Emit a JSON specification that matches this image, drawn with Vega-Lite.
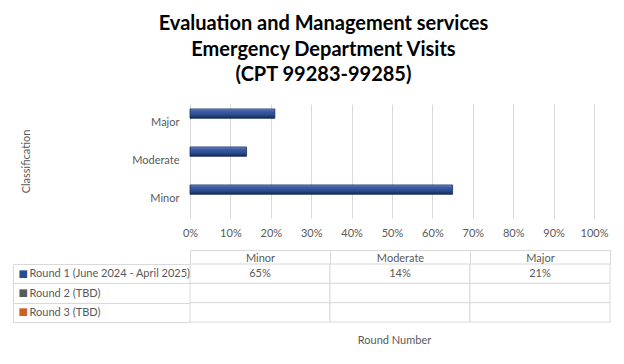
{
  "$schema": "https://vega.github.io/schema/vega-lite/v6.json",
  "padding": {"left": 12, "top": 14, "right": 12, "bottom": 4},
  "background": "white",
  "title": {
    "text": ["Evaluation and Management services", "Emergency Department Visits", "(CPT 99283-99285)"],
    "font": "Lato",
    "fontSize": 20,
    "fontWeight": "bold",
    "color": "#000000",
    "lineHeight": 25.5,
    "anchor": "middle",
    "dx": 12,
    "offset": 19
  },
  "config": {
    "view": {"stroke": null},
    "font": "Lato",
    "axis": {"labelFont": "Lato", "titleFont": "Lato", "labelColor": "#595959", "titleColor": "#595959", "labelFontSize": 11, "titleFontSize": 11, "titleFontWeight": "normal"}
  },
  "datasets": {
    "cells": [
      {"Round": "Round 1 (June 2024 - April 2025)", "Classification": "Minor", "Value": 0.65},
      {"Round": "Round 1 (June 2024 - April 2025)", "Classification": "Moderate", "Value": 0.14},
      {"Round": "Round 1 (June 2024 - April 2025)", "Classification": "Major", "Value": 0.21},
      {"Round": "Round 2 (TBD)", "Classification": "Minor", "Value": null},
      {"Round": "Round 2 (TBD)", "Classification": "Moderate", "Value": null},
      {"Round": "Round 2 (TBD)", "Classification": "Major", "Value": null},
      {"Round": "Round 3 (TBD)", "Classification": "Minor", "Value": null},
      {"Round": "Round 3 (TBD)", "Classification": "Moderate", "Value": null},
      {"Round": "Round 3 (TBD)", "Classification": "Major", "Value": null}
    ]
  },
  "spacing": 11,
  "vconcat": [
    {
      "width": 404,
      "height": 114,
      "data": {"name": "cells"},
      "transform": [{"filter": "isValid(datum.Value)"}],
      "mark": {
        "type": "bar",
        "stroke": "#1a2f5c",
        "strokeWidth": 0.8,
        "color": {
          "gradient": "linear", "x1": 0, "y1": 0, "x2": 0, "y2": 1,
          "stops": [
            {"offset": 0, "color": "#7f9bd6"},
            {"offset": 0.2, "color": "#3d5fa8"},
            {"offset": 0.65, "color": "#2b4a8c"},
            {"offset": 1, "color": "#15284f"}
          ]
        }
      },
      "encoding": {
        "y": {
          "field": "Classification", "type": "nominal",
          "sort": ["Major", "Moderate", "Minor"],
          "scale": {"paddingInner": 0.26, "paddingOuter": 0.13},
          "axis": {"title": "Classification", "ticks": false, "tickSize": 0, "domain": false, "labelPadding": 11, "titlePadding": 100}
        },
        "yOffset": {
          "field": "Round", "type": "nominal",
          "scale": {"domain": ["Round 1 (June 2024 - April 2025)", "Round 2 (TBD)", "Round 3 (TBD)"], "paddingInner": 0, "paddingOuter": 0}
        },
        "x": {
          "field": "Value", "type": "quantitative",
          "scale": {"domain": [0, 1], "nice": false},
          "axis": {"title": null, "format": ".0%", "values": [0, 0.1, 0.2, 0.3, 0.4, 0.5, 0.6, 0.7, 0.8, 0.9, 1], "labelOverlap": false, "labelFlush": false, "grid": true, "gridColor": "#d9d9d9", "domain": false, "ticks": false, "tickSize": 0, "labelPadding": 9}
        }
      }
    },
    {
      "width": 420,
      "height": 58,
      "data": {"name": "cells"},
      "resolve": {"axis": {"x": "independent", "y": "independent"}},
      "layer": [
        {
          "mark": {"type": "rect", "fill": "white", "stroke": "#d9d9d9", "strokeWidth": 1},
          "encoding": {
            "x": {
              "field": "Classification", "type": "nominal",
              "scale": {"domain": ["Minor", "Moderate", "Major"], "paddingInner": 0, "paddingOuter": 0},
              "axis": {"orient": "top", "title": null, "domain": false, "ticks": true, "tickBand": "extent", "tickSize": 14, "tickColor": "#d9d9d9", "labelPadding": -13, "labelAngle": 0}
            },
            "y": {
              "field": "Round", "type": "nominal",
              "scale": {"domain": ["Round 1 (June 2024 - April 2025)", "Round 2 (TBD)", "Round 3 (TBD)"], "paddingInner": 0, "paddingOuter": 0},
              "axis": {"title": null, "domain": false, "ticks": true, "tickBand": "extent", "tickSize": 177, "tickColor": "#d9d9d9", "labelAlign": "left", "labelPadding": -16, "labelLimit": 300}
            }
          }
        },
        {
          "mark": {"type": "rect", "opacity": 0},
          "encoding": {
            "x": {
              "field": "Classification", "type": "nominal",
              "axis": {"orient": "top", "offset": 14, "title": null, "domain": true, "domainColor": "#d9d9d9", "ticks": false, "labels": false}
            },
            "y": {
              "field": "Round", "type": "nominal",
              "axis": {
                "orient": "left", "offset": 177, "title": null, "domain": true, "domainColor": "#d9d9d9", "ticks": false, "tickSize": 0,
                "labelExpr": "'■'", "labelFont": "DejaVu Sans", "labelFontSize": 10, "labelAlign": "left", "labelPadding": -5,
                "labelColor": {
                  "condition": [
                    {"test": "datum.value === 'Round 1 (June 2024 - April 2025)'", "value": "#2a4a8c"},
                    {"test": "datum.value === 'Round 2 (TBD)'", "value": "#5a5a5a"}
                  ],
                  "value": "#d0601a"
                }
              }
            }
          }
        },
        {
          "transform": [{"filter": "isValid(datum.Value)"}],
          "mark": {"type": "text", "font": "Lato", "fontSize": 11, "color": "#595959"},
          "encoding": {
            "x": {
              "field": "Classification", "type": "nominal",
              "axis": {"orient": "bottom", "title": "Round Number", "domain": false, "ticks": false, "labels": false, "titlePadding": 12, "titleX": 204}
            },
            "y": {"field": "Round", "type": "nominal", "axis": null},
            "text": {"field": "Value", "type": "quantitative", "format": ".0%"}
          }
        }
      ]
    }
  ]
}
